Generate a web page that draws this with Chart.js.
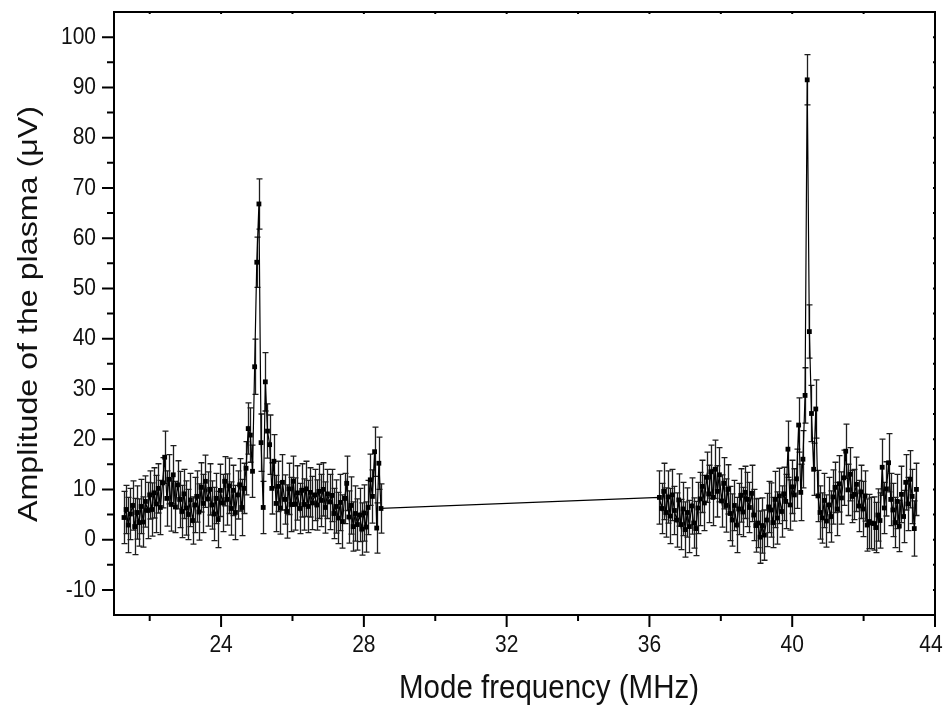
<!DOCTYPE html>
<html>
<head>
<meta charset="utf-8">
<script src="https://cdn.jsdelivr.net/npm/chart.js@4.4.1/dist/chart.umd.min.js"></script>
<style>
  html, body { margin: 0; padding: 0; background: #fff; }
  #wrap { width: 946px; height: 707px; }
</style>
</head>
<body>
<div id="wrap"><canvas id="c" width="946" height="707"></canvas></div>
<script>
// frecuencias (MHz) del primer barrido
const freqLow = [
  21.28, 21.34, 21.40, 21.46, 21.52, 21.58, 21.64, 21.70, 21.76, 21.82,
  21.88, 21.94, 22.00, 22.06, 22.12, 22.18, 22.24, 22.30, 22.36, 22.42,
  22.48, 22.54, 22.60, 22.66, 22.72, 22.78, 22.84, 22.90, 22.96, 23.02,
  23.08, 23.14, 23.20, 23.26, 23.32, 23.38, 23.44, 23.50, 23.56, 23.62,
  23.68, 23.74, 23.80, 23.86, 23.92, 23.98, 24.04, 24.10, 24.16, 24.22,
  24.28, 24.34, 24.40, 24.46, 24.52, 24.58, 24.64, 24.70, 24.76, 24.82,
  24.88, 24.94, 25.00, 25.06, 25.12, 25.18, 25.24, 25.30, 25.36, 25.42,
  25.48, 25.54, 25.60, 25.66, 25.72, 25.78, 25.84, 25.90, 25.96, 26.02,
  26.08, 26.14, 26.20, 26.26, 26.32, 26.38, 26.44, 26.50, 26.56, 26.62,
  26.68, 26.74, 26.80, 26.86, 26.92, 26.98, 27.04, 27.10, 27.16, 27.22,
  27.28, 27.34, 27.40, 27.46, 27.52, 27.58, 27.64, 27.70, 27.76, 27.82,
  27.88, 27.94, 28.00, 28.06, 28.12, 28.18, 28.24, 28.30, 28.36, 28.42,
  28.48
];
const ampLow = [
  4.4, 6.0, 2.9, 5.1, 6.8, 2.6, 5.4, 3.4, 6.6, 3.5,
  7.6, 5.8, 8.9, 6.0, 9.3, 7.1, 10.2, 6.4, 11.3, 16.4,
  8.2, 12.0, 7.0, 12.9, 6.5, 10.9, 8.0, 5.6, 9.1, 6.3,
  5.0, 7.9, 3.8, 6.9, 8.6, 5.5, 10.4, 7.2, 11.6, 8.1,
  10.0, 6.9, 5.1, 8.2, 4.0, 9.8, 7.3, 11.6, 8.0, 10.7,
  6.2, 9.8, 5.4, 8.9, 10.9, 6.4, 10.2, 14.2, 22.1, 20.8,
  13.6, 34.4, 55.2, 66.8, 19.3, 6.4, 31.4, 21.6, 18.9, 10.2,
  15.6, 7.2, 10.6, 6.3, 11.4, 8.0, 5.6, 10.1, 7.0, 11.6,
  7.1, 9.3, 6.2, 9.8, 7.0, 10.1, 6.6, 9.4, 7.3, 8.9,
  6.9, 9.6, 7.8, 10.0, 6.4, 9.1, 7.5, 8.8, 5.2, 6.6,
  4.3, 7.4, 3.6, 8.2, 11.2, 4.5, 6.8, 2.6, 5.2, 3.0,
  4.9, 2.1, 5.3, 2.5, 6.4, 11.9, 8.6, 17.5, 2.3, 15.2,
  6.2
];
const errLow = [
  5.2, 4.8, 5.5, 5.1, 4.9, 5.6, 5.3, 4.7, 5.4, 5.0,
  5.1, 5.6, 4.8, 5.3, 5.0, 5.7, 4.9, 5.4, 5.0, 5.2,
  5.5, 4.9, 5.3, 5.8, 5.1, 4.8, 5.6, 5.2, 4.9, 5.4,
  5.0, 5.3, 4.7, 5.5, 5.1, 5.6, 4.9, 5.8, 5.2, 5.4,
  5.1, 4.8, 5.3, 5.0, 5.6, 5.2, 5.7, 4.9, 5.1, 5.5,
  5.3, 5.0, 5.4, 4.8, 5.2, 5.6, 5.0, 5.3, 5.1, 5.4,
  5.2, 5.5, 5.0, 5.0, 5.7, 5.2, 5.8, 5.4, 5.9, 5.1,
  5.3, 5.6, 5.0, 5.2, 5.5, 4.9, 5.3, 5.1, 5.4, 5.0,
  5.2, 5.4, 5.0, 5.3, 5.1, 5.5, 5.2, 4.9, 5.3, 5.1,
  5.0, 5.4, 5.2, 5.3, 5.1, 4.9, 5.5, 5.2, 5.0, 5.3,
  5.1, 5.6, 5.3, 5.0, 5.4, 5.2, 5.7, 4.9, 5.5, 5.1,
  5.3, 5.2, 5.6, 5.0, 5.4, 5.1, 5.3, 4.9, 5.0, 5.2,
  4.9
];
// segundo barrido
const freqHigh = [
  36.28, 36.34, 36.40, 36.46, 36.52, 36.58, 36.64, 36.70, 36.76, 36.82,
  36.88, 36.94, 37.00, 37.06, 37.12, 37.18, 37.24, 37.30, 37.36, 37.42,
  37.48, 37.54, 37.60, 37.66, 37.72, 37.78, 37.84, 37.90, 37.96, 38.02,
  38.08, 38.14, 38.20, 38.26, 38.32, 38.38, 38.44, 38.50, 38.56, 38.62,
  38.68, 38.74, 38.80, 38.86, 38.92, 38.98, 39.04, 39.10, 39.16, 39.22,
  39.28, 39.34, 39.40, 39.46, 39.52, 39.58, 39.64, 39.70, 39.76, 39.82,
  39.88, 39.94, 40.00, 40.06, 40.12, 40.18, 40.24, 40.30, 40.36, 40.42,
  40.48, 40.54, 40.60, 40.66, 40.72, 40.78, 40.84, 40.90, 40.96, 41.02,
  41.08, 41.14, 41.20, 41.26, 41.32, 41.38, 41.44, 41.50, 41.56, 41.62,
  41.68, 41.74, 41.80, 41.86, 41.92, 41.98, 42.04, 42.10, 42.16, 42.22,
  42.28, 42.34, 42.40, 42.46, 42.52, 42.58, 42.64, 42.70, 42.76, 42.82,
  42.88, 42.94, 43.00, 43.06, 43.12, 43.18, 43.24, 43.30, 43.36, 43.42,
  43.48
];
const ampHigh = [
  8.4, 6.2, 9.6, 5.4, 8.5, 4.7, 8.9, 5.8, 3.9, 7.9,
  3.0, 6.1, 2.0, 5.4, 2.6, 6.7, 3.3, 2.2, 6.3, 8.1,
  10.6, 7.3, 12.4, 9.1, 13.5, 8.4, 14.0, 9.6, 12.9, 7.7,
  11.2, 6.8, 10.0, 5.2, 3.9, 6.8, 2.9, 6.1, 8.8, 5.5,
  9.4, 8.0, 6.4, 9.2, 4.9, 2.8, 3.3, 0.5, 2.8, 0.9,
  3.9, 6.5, 5.9, 3.4, 8.0, 4.3, 8.7, 5.6, 9.1, 7.6,
  18.0, 6.9, 10.5, 8.9, 12.1, 22.8, 9.4, 16.0, 28.7, 91.5,
  41.4, 25.1, 14.0, 26.0, 8.7, 5.4, 4.3, 7.8, 3.7, 6.9,
  4.6, 8.5, 10.4, 6.1, 11.1, 8.3, 12.3, 17.6, 9.9, 13.0,
  8.6, 9.0, 11.0, 6.7, 9.5, 6.1, 8.7, 2.9, 3.6, 3.3,
  3.2, 2.4, 4.9, 3.8, 14.4, 6.3, 10.1, 15.3, 8.0, 5.9,
  3.4, 7.6, 2.7, 9.0, 4.6, 11.4, 7.1, 12.0, 8.6, 2.2,
  10.0
];
const errHigh = [
  5.3, 5.0, 5.6, 4.9, 5.2, 5.5, 5.1, 4.8, 5.4, 5.2,
  5.0, 5.3, 5.5, 4.9, 5.2, 5.6, 5.0, 5.4, 5.1, 5.3,
  5.2, 5.5, 5.0, 5.7, 5.3, 5.6, 5.8, 5.1, 5.4, 5.2,
  5.1, 5.3, 4.9, 5.4, 5.2, 5.0, 5.5, 5.1, 5.3, 4.9,
  5.2, 5.4, 5.0, 5.6, 5.1, 5.3, 4.9, 5.2, 5.5, 5.0,
  5.3, 5.1, 5.4, 5.0, 5.6, 5.2, 5.5, 5.1, 5.3, 5.4,
  5.6, 5.0, 5.3, 5.2, 5.9, 5.4, 5.6, 5.7, 5.5, 5.0,
  5.3, 5.6, 5.2, 5.8, 5.1, 5.3, 5.0, 5.4, 5.2, 5.5,
  5.1, 5.4, 5.0, 5.3, 5.6, 5.2, 5.5, 5.4, 5.1, 5.3,
  5.2, 5.0, 5.4, 5.1, 5.3, 5.5, 5.0, 5.2, 5.4, 5.1,
  5.3, 5.0, 5.2, 5.5, 5.6, 5.1, 5.4, 5.8, 5.2, 5.3,
  5.0, 5.4, 5.1, 5.6, 5.2, 5.5, 5.3, 5.7, 5.4, 5.5,
  5.2
];

const xMajor = [24, 28, 32, 36, 40, 44];
const xMinor = [22, 26, 30, 34, 38, 42];
const yMajor = [-10, 0, 10, 20, 30, 40, 50, 60, 70, 80, 90, 100];
const yMinor = [-5, 5, 15, 25, 35, 45, 55, 65, 75, 85, 95];
const xTitle = "Mode frequency (MHz)";
const yTitle = "Amplitude of the plasma (\u03bcV)";

const FONT = '"Liberation Sans", Arial, sans-serif';
const SY = 1.15; // el original viene estirado en vertical

const freq = freqLow.concat(freqHigh);
const amp = ampLow.concat(ampHigh);
const err = errLow.concat(errHigh);
const points = freq.map((f, i) => ({ x: f, y: amp[i] }));

function txt(ctx, s, x, y, size, align, rot) {
  ctx.save();
  ctx.translate(x, y);
  ctx.scale(1, SY);
  if (rot) ctx.rotate(-Math.PI / 2);
  ctx.font = `${size}px ${FONT}`;
  ctx.textAlign = align;
  ctx.textBaseline = "middle";
  ctx.fillStyle = "#111";
  ctx.fillText(s, 0, 0);
  ctx.restore();
}

const errorBars = {
  id: "errorBars",
  beforeDatasetsDraw(chart) {
    const { ctx, scales: { x, y } } = chart;
    ctx.save();
    ctx.strokeStyle = "#1e1e1e";
    ctx.lineWidth = 1.3;
    freq.forEach((f, i) => {
      const px = Math.round(x.getPixelForValue(f)) + 0.5;
      const t = y.getPixelForValue(amp[i] + err[i]);
      const b = y.getPixelForValue(amp[i] - err[i]);
      ctx.beginPath();
      ctx.moveTo(px, t); ctx.lineTo(px, b);
      ctx.moveTo(px - 3, t); ctx.lineTo(px + 3, t);
      ctx.moveTo(px - 3, b); ctx.lineTo(px + 3, b);
      ctx.stroke();
    });
    ctx.restore();
  },
};

const frame = {
  id: "frame",
  afterDraw(chart) {
    const { ctx, chartArea: a, scales: { x, y } } = chart;
    ctx.save();
    ctx.strokeStyle = "#000";
    ctx.lineWidth = 2;
    ctx.strokeRect(a.left, a.top, a.right - a.left, a.bottom - a.top);
    ctx.beginPath();
    xMajor.concat(xMinor).forEach((v) => {
      const px = x.getPixelForValue(v);
      const len = xMajor.includes(v) ? 12 : 6;
      ctx.moveTo(px, a.bottom); ctx.lineTo(px, a.bottom + len);
      ctx.moveTo(px, a.top); ctx.lineTo(px, a.top + 2);
    });
    yMajor.concat(yMinor).forEach((v) => {
      const py = y.getPixelForValue(v);
      const len = yMajor.includes(v) ? 12 : 7;
      ctx.moveTo(a.left, py); ctx.lineTo(a.left - len, py);
      ctx.moveTo(a.right, py); ctx.lineTo(a.right - 2, py);
    });
    ctx.stroke();
    ctx.restore();

    xMajor.forEach((v) => {
      const px = Math.min(x.getPixelForValue(v), 931);
      txt(ctx, String(v), px, a.bottom + 30, 21, "center");
    });
    yMajor.forEach((v) => txt(ctx, String(v), a.left - 18, y.getPixelForValue(v), 21, "right"));
    txt(ctx, xTitle, 549, 689, 29.5, "center");
    txt(ctx, yTitle, 29, 314, 28, "center", true);
  },
};

new Chart(document.getElementById("c"), {
  type: "line",
  data: {
    datasets: [{
      data: points,
      borderColor: "#000",
      borderWidth: 1.2,
      pointStyle: "rect",
      pointRadius: 3.4,
      pointBackgroundColor: "#000",
      pointBorderWidth: 0,
      tension: 0,
    }],
  },
  options: {
    responsive: false,
    animation: false,
    devicePixelRatio: 1,
    layout: { padding: { left: 0, top: 12, right: 11, bottom: 0 } },
    plugins: { legend: { display: false }, tooltip: { enabled: false } },
    scales: {
      x: {
        type: "linear",
        min: 21,
        max: 44,
        grid: { display: false },
        border: { display: false },
        ticks: { display: false },
        afterFit: (s) => { s.height = 92; },
      },
      y: {
        min: -15,
        max: 105,
        grid: { display: false },
        border: { display: false },
        ticks: { display: false },
        afterFit: (s) => { s.width = 114; },
      },
    },
  },
  plugins: [errorBars, frame],
});
</script>
</body>
</html>
